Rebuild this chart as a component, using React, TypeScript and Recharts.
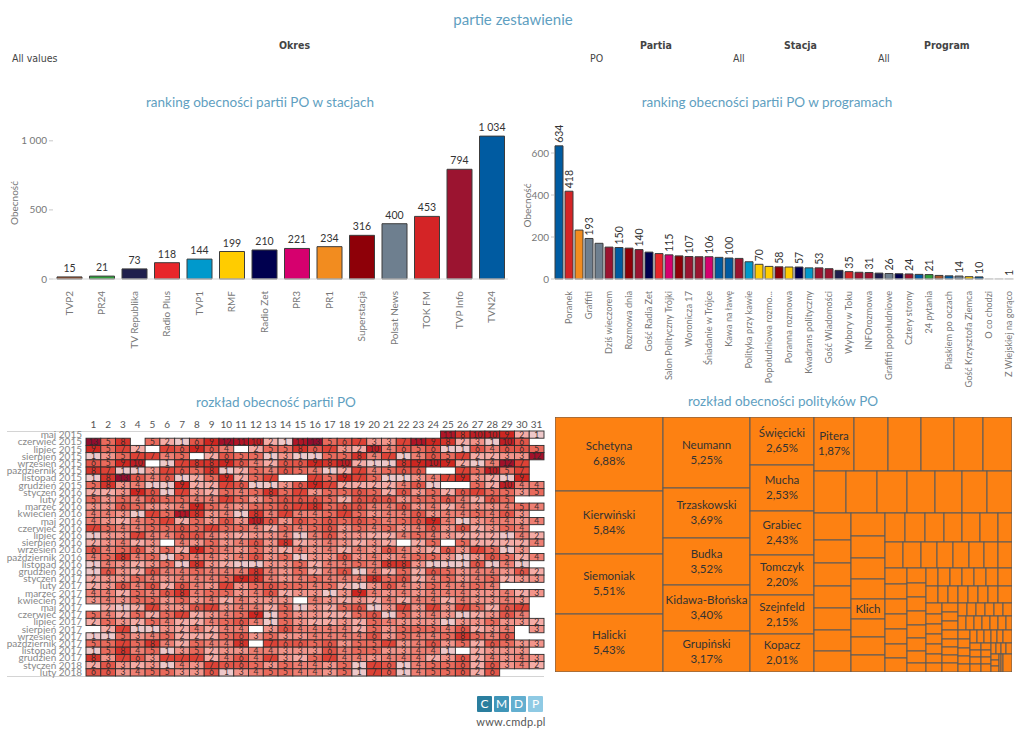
import React from "react";
import {
  BarChart,
  Bar,
  XAxis,
  YAxis,
  LabelList,
  Cell,
  ScatterChart,
  Scatter,
  Treemap,
} from "recharts";

const UI_FONT = "'Segoe UI', Lato, 'Open Sans', sans-serif";
const NARROW_FONT = "'Liberation Sans Narrow', 'DejaVu Sans Condensed', sans-serif";
const TITLE_COLOR = "#5f9fc1";
const TICK_COLOR = "#777";

const stationColors: Record<string, string> = {
  TVP2: "#a0522d",
  PR24: "#2e9e3a",
  "TV Republika": "#1f1f4d",
  "Radio Plus": "#e8262a",
  TVP1: "#0099cc",
  RMF: "#ffcc00",
  "Radio Zet": "#00004f",
  PR3: "#d6006e",
  PR1: "#f28c1f",
  Superstacja: "#8e0008",
  "Polsat News": "#6e7f8f",
  "TOK FM": "#d42426",
  "TVP Info": "#9b1430",
  TVN24: "#005ba1",
  inne: "#d0d0d0",
};

// --- ranking w stacjach ---
const stations = [
  "TVP2", "PR24", "TV Republika", "Radio Plus", "TVP1", "RMF", "Radio Zet",
  "PR3", "PR1", "Superstacja", "Polsat News", "TOK FM", "TVP Info", "TVN24",
];
const stationCounts = [15, 21, 73, 118, 144, 199, 210, 221, 234, 316, 400, 453, 794, 1034];

// --- ranking w programach ---
const programs = [
  "Jeden na jeden", "Poranek", "Sygnały dnia", "Graffiti", "Gość Wydarzeń", "Dziś wieczorem",
  "Kropka nad i", "Rozmowa dnia", "Minęła 20", "Gość Radia Zet", "Gość Radia Plus",
  "Salon Polityczny Trójki", "Tak czy nie", "Woronicza 17", "Gość poranka", "Śniadanie w Trójce",
  "Fakty po Faktach", "Kawa na ławę", "Studio Polska", "Polityka przy kawie", "Gość RMF FM",
  "Popołudniowa rozmo...", "Wydarzenia dnia", "Poranna rozmowa", "Wstajesz i wiesz",
  "Kwadrans polityczny", "Forum", "Gość Wiadomości", "Polityczna kawa", "Wybory w Toku",
  "Bez retuszu", "INFOrozmowa", "Wywiad Republiki", "Graffiti popołudniowe", "Rozmowa Radia Zet",
  "Cztery strony", "Tak jest", "24 pytania", "Pytanie dnia", "Piaskiem po oczach", "Skandaliści",
  "Gość Krzysztofa Ziemca", "Babilon", "O co chodzi", "Rozmowa Jedynki", "Z Wiejskiej na gorąco",
];
const programCounts = [
  634, 418, 233, 193, 170, 152, 150, 147, 140, 128, 121, 115, 110, 107, 106, 106, 103, 100,
  98, 82, 70, 60, 58, 57, 57, 53, 53, 49, 41, 35, 32, 31, 28, 26, 25, 24, 22, 21, 17, 15,
  14, 11, 10, 1, 1, 1,
];
const programStations = [
  "TVN24", "TOK FM", "PR1", "Polsat News", "Polsat News", "TVP Info", "TVN24", "Superstacja",
  "TVP Info", "Radio Zet", "Radio Plus", "PR3", "Superstacja", "TVP Info", "TVP Info", "PR3",
  "TVN24", "TVN24", "TVP Info", "TVP1", "RMF", "RMF", "Superstacja", "RMF", "Radio Zet", "TVP1",
  "TVP Info", "TVP Info", "TV Republika", "TOK FM", "TVP Info", "TVP Info", "TV Republika",
  "Polsat News", "Radio Zet", "TVP Info", "TVN24", "PR24", "TVP2", "TVN24", "Polsat News", "RMF",
  "TVN24", "inne", "inne", "inne",
];
// programs whose value label is printed above the bar
const labelledPrograms = [
  "Jeden na jeden", "Poranek", "Graffiti", "Kropka nad i", "Minęła 20", "Salon Polityczny Trójki",
  "Woronicza 17", "Śniadanie w Trójce", "Kawa na ławę", "Gość RMF FM", "Wydarzenia dnia",
  "Wstajesz i wiesz", "Forum", "Wybory w Toku", "INFOrozmowa", "Graffiti popołudniowe",
  "Cztery strony", "24 pytania", "Skandaliści", "Babilon", "Z Wiejskiej na gorąco",
];

// --- rozkład obecności (miesiąc x dzień) ---
const N = null;
const months = [
  "maj 2015", "czerwiec 2015", "lipiec 2015", "sierpień 2015", "wrzesień 2015", "październik 2015",
  "listopad 2015", "grudzień 2015", "styczeń 2016", "luty 2016", "marzec 2016", "kwiecień 2016",
  "maj 2016", "czerwiec 2016", "lipiec 2016", "sierpień 2016", "wrzesień 2016", "październik 2016",
  "listopad 2016", "grudzień 2016", "styczeń 2017", "luty 2017", "marzec 2017", "kwiecień 2017",
  "maj 2017", "czerwiec 2017", "lipiec 2017", "sierpień 2017", "wrzesień 2017", "październik 2017",
  "listopad 2017", "grudzień 2017", "styczeń 2018", "luty 2018",
];
const days = Array.from({ length: 31 }, (_, i) => i + 1);
const dailyCounts: (number | null)[][] = [
  [N, N, N, N, N, N, N, N, N, N, N, N, N, N, N, N, N, N, N, N, N, N, N, N, 11, 8, 10, 10, 9, 2, 1],
  [13, 5, 8, N, 5, 2, 1, 6, 9, 12, 11, 10, 2, 1, 11, 13, 5, 6, 7, 3, 3, 7, 11, 9, 8, 2, 3, 1, 10, 6, N],
  [9, 5, 7, 2, N, 7, 6, 9, 6, 4, N, 2, 5, 5, 8, 6, 7, 3, 2, 10, 4, 6, 5, 6, 1, 1, 6, 4, 6, 6, 5],
  [1, 3, 5, 7, 7, 4, 5, N, 2, 6, 5, 5, 1, 3, 1, 1, 5, 5, 8, 4, 7, 1, 4, 6, 5, 7, 2, 2, 3, 3, 12],
  [6, 5, 9, 10, N, 1, 7, 8, 8, 9, 6, 4, 2, 6, 6, 9, 8, 10, 2, 1, 1, 8, 9, 10, 9, 2, 1, 4, 12, 7, N],
  [8, 7, 1, 1, 3, 7, 6, 5, 8, 1, 2, 5, 4, 6, 5, 4, 1, 2, 7, 4, 5, 6, 6, N, N, 7, 5, 10, 5, 7, N],
  [1, 8, 13, 6, 4, 6, 1, 2, 5, 9, 2, 5, 7, N, N, 7, 5, 9, 7, 5, 1, 1, 3, 4, 7, 9, 3, 2, 1, 9, N],
  [5, 8, 3, 4, 1, 1, 9, 2, 2, 7, 6, 1, 1, 3, 6, 9, 7, 2, 2, 2, 2, 4, 6, 1, N, N, 5, 2, 10, 4, 4],
  [2, 2, 3, 9, 6, 1, 7, 3, 2, 5, 4, 5, 8, 5, 7, 3, 5, 5, 6, 5, 2, 6, 3, 5, 2, 6, 7, 5, 5, 3, 5],
  [5, 3, 5, 4, 6, 5, 5, 4, 4, 7, 5, 3, 5, 6, 6, 6, 5, 2, 6, 6, 6, 3, 5, 5, 6, 4, 2, 6, 5, N, N],
  [3, 3, 6, 5, 3, 3, 4, 9, 5, 4, 3, 5, 5, 6, 7, 8, 5, 6, 6, 4, 4, 6, 3, 4, 2, 4, 3, 3, 4, 5, 4],
  [4, 4, 3, 1, 7, 5, 11, 8, 3, 4, 1, 8, 4, 7, 4, 4, 5, 7, 5, 3, 4, 4, 6, 3, 4, 4, 5, 4, 6, 3, N],
  [4, 3, 2, 4, 5, 7, 2, 5, 3, 6, 3, 10, 6, 3, 6, 5, 6, 5, 6, 5, 4, 5, 6, 9, 4, 1, 3, 4, 4, 3, 4],
  [7, 5, 4, 4, 5, 5, 6, 5, 7, 5, 5, 4, 2, 5, 4, 5, 6, 3, 5, 4, 5, 3, 4, 6, 3, 6, 2, 3, 5, 4, N],
  [1, 3, 3, 7, 4, 4, 6, 6, 4, 3, 2, 3, 3, 4, 1, 4, 6, 3, 3, 2, 2, 4, 5, 4, 3, 2, 2, 2, 1, 4, 2],
  [2, 3, 4, 2, 3, N, 4, 3, 5, 3, 4, 6, 3, 8, 2, 3, 4, 3, 2, 3, 2, N, 2, 5, N, 5, 2, 2, 2, 2, 4],
  [6, 4, 5, 6, 3, 5, 2, 9, 5, 4, 3, 5, 3, 2, 4, 3, 4, 2, 4, 3, 6, 4, 3, 2, 6, 3, 7, 5, 1, 3, N],
  [4, 5, 8, 4, 5, 1, 5, 4, 4, 3, 4, 6, 3, 5, 1, 3, 3, 6, 3, 4, 3, 4, 5, 5, 3, 1, 3, 6, 5, 2, 4],
  [1, 4, 3, 2, 3, 5, 1, 8, 3, 2, 1, 1, 3, 3, 5, 2, 4, 4, 5, 4, 8, 8, 3, 1, 1, 1, 6, 1, 4, 1, N],
  [1, 6, 3, 2, 6, 4, 4, 5, 4, 4, 4, 8, 4, 3, 5, 2, 4, 6, 1, 4, 2, 5, 2, 6, 5, 3, 4, 4, 3, 6, 2],
  [2, 3, 3, 5, 4, 3, 4, 4, 4, 5, 9, 8, 4, 3, 4, 5, 4, 4, 4, 8, 5, 6, 2, 4, 5, 3, 4, 5, 2, 3, 3],
  [2, 3, 6, 4, 6, 2, 6, 4, 3, 7, 3, 5, 6, 5, 5, 4, 5, 2, 1, 3, 6, 4, 3, 5, 4, 4, 5, 4, N, N, N],
  [4, 4, 2, 5, 4, 6, 8, 4, 5, 5, 3, 4, 6, 2, 3, 3, 1, 3, 9, 4, 3, 4, 3, 4, 4, 4, 3, 3, 4, 2, 3],
  [3, 4, 3, 5, 5, 3, 5, 3, 4, 2, 4, 3, 3, 3, N, 4, 3, 2, 3, 2, 4, 2, 4, 4, 2, 4, 3, 3, 4, 3, N],
  [N, 2, 1, 2, 7, 3, 3, 6, 7, 3, 4, 4, 2, 5, 1, 3, 2, 5, 6, 1, 3, 7, 3, 7, 3, 7, 5, 2, 6, 7, N],
  [5, 4, 2, 5, 2, 5, 7, 2, 3, 4, 5, 9, 1, 5, 3, 3, 2, 2, 5, 6, 1, 5, 3, 4, 3, 1, 2, 3, 6, 4, N],
  [2, 5, 3, 2, 5, 4, 2, 2, 4, 5, 6, 4, 1, 5, 3, 2, 2, 3, 2, 5, 4, 3, 3, 3, 1, 3, 3, 5, 3, 3, 2],
  [N, 2, 7, 1, 1, 3, 2, 4, 2, 4, 4, N, 3, 6, 4, 4, 4, 4, 2, 5, 3, 5, 5, 5, 4, 6, 2, 3, 4, N, 3],
  [1, 1, 5, 3, 4, 5, 2, 2, 2, 5, 6, 3, 5, 3, 3, 4, 4, 4, 4, 6, 3, 5, 4, 4, 5, 8, 5, 4, 6, N, N],
  [5, 5, 7, 5, 8, 4, 2, 5, 4, 4, 8, N, 7, 6, 6, 5, 6, 3, 5, 5, 7, 3, 4, 6, 3, 5, 2, 6, 5, 3, 3],
  [1, 5, 8, 4, 5, 1, 3, 5, 2, 3, 3, 4, 4, 3, 3, 3, 6, 4, 5, 5, 3, 3, 4, 4, 1, N, 2, 3, 3, 3, N],
  [8, 3, 7, 6, 3, 7, 7, 7, 2, 4, 6, 4, 7, 3, 2, 5, 7, 4, 4, 3, 4, 4, 4, 2, 3, 6, 2, 4, 3, 4, 3],
  [2, 6, 3, 2, 3, 1, 4, 3, 7, 6, 6, 5, 3, 5, 4, 4, 3, 5, 1, 7, 6, 1, 4, 5, 5, 6, 2, 6, 3, 4, 2],
  [6, 6, 3, 4, 5, 5, 3, 3, 6, 1, 3, 4, 5, 5, 4, 4, 3, 5, 1, 7, 6, 1, 4, 5, 5, 6, 2, 6, N, N, N],
];

// --- rozkład obecności polityków (udział w %) ---
const politicianNames = [
  "Schetyna", "Kierwiński", "Siemoniak", "Halicki", "Neumann", "Trzaskowski", "Budka",
  "Kidawa-Błońska", "Grupiński", "Święcicki", "Mucha", "Grabiec", "Tomczyk", "Szejnfeld",
  "Kopacz", "Pitera",
];
const politicianShares = [
  6.88, 5.84, 5.51, 5.43, 5.25, 3.69, 3.52, 3.4, 3.17, 2.65, 2.53, 2.43, 2.2, 2.15, 2.01, 1.87,
];
// the remaining politicians, largest first; only Klich gets a name in the picture
const otherShares = [
  1.55, 1.53, 1.52, 1.36, 1.24,
  1.16, 1.1, 1.09, 0.99, 0.98, 0.91, 0.9,
  0.84, 0.74, 0.72, 0.7, 0.69, 0.68, 0.67,
  0.66, 0.64, 0.61, 0.59, 0.57, 0.53, 0.52, 0.51,
  0.5, 0.49, 0.46, 0.45, 0.45, 0.44, 0.41,
  0.41, 0.4, 0.36, 0.36, 0.35, 0.34, 0.32, 0.31,
  0.3, 0.29, 0.29, 0.28, 0.28, 0.27, 0.27,
  0.24, 0.23, 0.22, 0.22, 0.21, 0.21, 0.2, 0.2, 0.19,
  0.19, 0.19, 0.19, 0.18, 0.18, 0.18, 0.18,
  0.15, 0.15, 0.15, 0.15, 0.15, 0.15, 0.15,
  0.15, 0.14, 0.14, 0.14, 0.14, 0.13, 0.12,
  0.12, 0.12, 0.12, 0.12, 0.11, 0.11, 0.11, 0.11,
  0.1, 0.1, 0.1, 0.1, 0.1, 0.1, 0.1, 0.09, 0.09, 0.09, 0.09, 0.09, 0.09, 0.09, 0.09,
  0.08, 0.08, 0.08, 0.08, 0.08, 0.08, 0.07, 0.07, 0.07, 0.07, 0.07, 0.07,
  0.06, 0.06, 0.06, 0.06, 0.06, 0.05, 0.05, 0.05, 0.05, 0.04, 0.04, 0.04, 0.03, 0.03, 0.03,
];
const klichPosition = 23;

const stationData = stations.map((name, i) => ({ name, value: stationCounts[i] }));
const programData = programs.map((name, i) => ({
  name,
  value: programCounts[i],
  station: programStations[i],
}));
const heatCells = dailyCounts.flatMap((row, r) =>
  row.map((v, d) => ({ day: d + 1, row: r, value: v })).filter((c) => c.value !== null)
);
const treemapData = [
  ...politicianNames.map((name, i) => ({ name, share: politicianShares[i] })),
  ...otherShares.map((share, i) => ({ name: i === klichPosition ? "Klich" : "", key: `p${i}`, share })),
];

const fmtNum = (v: number) => String(v).replace(/\B(?=(\d{3})+(?!\d))/g, " ");
const fmtPct = (v: number) => v.toFixed(2).replace(".", ",") + "%";

// heat colour scale (light pink -> crimson)
const heatStops: [number, number[]][] = [
  [1, [238, 200, 202]],
  [2, [245, 172, 166]],
  [3, [242, 148, 138]],
  [5, [233, 106, 92]],
  [7, [221, 66, 54]],
  [9, [207, 38, 32]],
  [11, [178, 20, 38]],
  [13, [146, 12, 46]],
];
function heatColor(v: number) {
  for (let i = 0; i < heatStops.length - 1; i++) {
    const [a, ca] = heatStops[i];
    const [b, cb] = heatStops[i + 1];
    if (v <= b) {
      const t = Math.max(0, (v - a) / (b - a));
      const c = ca.map((x, k) => Math.round(x + (cb[k] - x) * t));
      return `rgb(${c.join(",")})`;
    }
  }
  return "rgb(146,12,46)";
}

function RotTick(props: any) {
  const { x, y, payload, hide, size = 10 } = props;
  if (hide) return null;
  return (
    <text
      x={x}
      y={y + 4}
      transform={`rotate(-90 ${x} ${y + 4})`}
      textAnchor="end"
      dy="0.35em"
      fontSize={size}
      fill={TICK_COLOR}
      fontFamily={UI_FONT}
    >
      {payload.value}
    </text>
  );
}

function MonthTick(props: any) {
  const { x, y, payload } = props;
  return (
    <text x={x} y={y} dy="0.35em" textAnchor="end" fontSize={10} fill="#888" fontFamily={UI_FONT}>
      {months[payload.value]}
    </text>
  );
}

function TopValueLabel(props: any) {
  const vb = props.viewBox || props;
  const cx = vb.x + vb.width / 2;
  return (
    <text x={cx} y={vb.y - 5} textAnchor="middle" fontSize={10.5} fill="#333" fontFamily={UI_FONT}>
      {fmtNum(Number(props.value))}
    </text>
  );
}

function RotValueLabel(props: any) {
  const vb = props.viewBox || props;
  const { index, value } = props;
  if (!labelledPrograms.includes(programs[index])) return null;
  const cx = vb.x + vb.width / 2;
  const ty = vb.y - 3;
  return (
    <text x={cx} y={ty} transform={`rotate(-90 ${cx} ${ty})`} dy="0.35em" fontSize={10.5} fill="#333" fontFamily={UI_FONT}>
      {value}
    </text>
  );
}

const HEAT_W = 550;
const HEAT_H = 290;
const HEAT_M = { top: 16, right: 6, bottom: 9, left: 0 };
const HEAT_YAXIS = 86;
const HEAT_XAXIS = 20;
const CELL_W = (HEAT_W - HEAT_M.left - HEAT_M.right - HEAT_YAXIS) / 31;
const CELL_H = (HEAT_H - HEAT_M.top - HEAT_M.bottom - HEAT_XAXIS) / months.length;

function HeatCell(props: any) {
  const { cx, cy, payload } = props;
  if (cx == null || cy == null) return null;
  return (
    <g>
      <rect
        x={cx - CELL_W / 2}
        y={cy - CELL_H / 2}
        width={CELL_W}
        height={CELL_H}
        fill={heatColor(payload.value)}
        stroke="#2a2a2a"
        strokeWidth={0.9}
      />
      <text x={cx} y={cy} dy="0.36em" textAnchor="middle" fontSize={8.5} fill="#3a2a2a" fontFamily={UI_FONT}>
        {payload.value}
      </text>
    </g>
  );
}

function TreeCell(props: any) {
  const { x, y, width, height, name, depth, value } = props;
  if (depth !== 1) return null;
  const cx = x + width / 2;
  const cy = y + height / 2;
  const showPct = name && width > 35 && height > 30;
  const showName = name && width > 25 && height > 14;
  return (
    <g>
      <rect x={x} y={y} width={width} height={height} fill="#fd8112" stroke="#5a5a5a" strokeWidth={1} />
      {showName && (
        <text x={cx} y={showPct ? cy - 8 : cy} dy="0.35em" textAnchor="middle" fontSize={11.5} fill="#333" fontFamily={UI_FONT}>
          {name}
        </text>
      )}
      {showPct && (
        <text x={cx} y={cy + 7} dy="0.35em" textAnchor="middle" fontSize={11.5} fill="#333" fontFamily={UI_FONT}>
          {fmtPct(value)}
        </text>
      )}
    </g>
  );
}

const abs = (left: number, top: number, extra: React.CSSProperties = {}): React.CSSProperties => ({
  position: "absolute",
  left,
  top,
  ...extra,
});

function Title({ x, y, text, size = 13.5 }: { x: number; y: number; text: string; size?: number }) {
  return (
    <div
      style={abs(x - 250, y - size * 0.7, {
        width: 500,
        textAlign: "center",
        fontSize: size,
        color: TITLE_COLOR,
        whiteSpace: "nowrap",
        lineHeight: 1.2,
      })}
    >
      {text}
    </div>
  );
}

function FilterText({ x, y, text, bold }: { x: number; y: number; text: string; bold?: boolean }) {
  return (
    <div
      style={abs(x, y - 7, {
        fontFamily: NARROW_FONT,
        fontSize: 10.5,
        fontWeight: bold ? 700 : 400,
        color: "#444",
        lineHeight: "14px",
        whiteSpace: "nowrap",
      })}
    >
      {text}
    </div>
  );
}

const logoLetters = ["C", "M", "D", "P"];
const logoColors = ["#2a7e9e", "#3f95b8", "#63afd0", "#8fcae4"];

export default function App() {
  return (
    <div
      style={{
        position: "absolute",
        left: 0,
        top: 0,
        width: 1024,
        height: 745,
        background: "#fff",
        overflow: "hidden",
        fontFamily: UI_FONT,
      }}
    >
      <Title x={513} y={20} text="partie zestawienie" size={15} />
      <FilterText x={279} y={45} text="Okres" bold />
      <FilterText x={12} y={58} text="All values" />
      <FilterText x={640} y={45} text="Partia" bold />
      <FilterText x={590} y={58} text="PO" />
      <FilterText x={784} y={45} text="Stacja" bold />
      <FilterText x={733} y={58} text="All" />
      <FilterText x={924} y={45} text="Program" bold />
      <FilterText x={878} y={58} text="All" />

      <Title x={260} y={103} text="ranking obecności partii PO w stacjach" />
      <div style={abs(0, 100)}>
        <BarChart width={520} height={280} data={stationData} margin={{ top: 27, right: 12, bottom: 0, left: 0 }}>
          <XAxis
            dataKey="name"
            interval={0}
            height={101}
            tickLine={false}
            axisLine={{ stroke: "#d8d8d8" }}
            tick={(p: any) => <RotTick {...p} />}
          />
          <YAxis
            domain={[0, 1100]}
            ticks={[0, 500, 1000]}
            width={53}
            axisLine={false}
            tickLine={{ stroke: "#c8c8c8" }}
            tickSize={4}
            tickFormatter={fmtNum}
            tick={{ fontSize: 10, fill: TICK_COLOR, fontFamily: UI_FONT }}
            label={{
              value: "Obecność",
              angle: -90,
              position: "insideLeft",
              offset: 14,
              style: { textAnchor: "middle", fontSize: 10, fill: TICK_COLOR, fontFamily: UI_FONT },
            }}
          />
          <Bar dataKey="value" barSize={25} stroke="#3c3c3c" strokeWidth={1} isAnimationActive={false}>
            {stationData.map((d) => (
              <Cell key={d.name} fill={stationColors[d.name]} />
            ))}
            <LabelList dataKey="value" content={(p: any) => <TopValueLabel {...p} />} />
          </Bar>
        </BarChart>
      </div>

      <Title x={767} y={103} text="ranking obecności partii PO w programach" />
      <div style={abs(520, 100)}>
        <BarChart width={504} height={290} data={programData} margin={{ top: 32, right: 10, bottom: 0, left: 0 }}>
          <XAxis
            dataKey="name"
            interval={0}
            height={111}
            tickLine={false}
            axisLine={{ stroke: "#d8d8d8" }}
            tick={(p: any) => <RotTick {...p} size={9.2} hide={p.index % 2 === 0} />}
          />
          <YAxis
            domain={[0, 700]}
            ticks={[0, 200, 400, 600]}
            width={34}
            axisLine={false}
            tickLine={{ stroke: "#c8c8c8" }}
            tickSize={3}
            tick={{ fontSize: 10, fill: TICK_COLOR, fontFamily: UI_FONT }}
            label={{
              value: "Obecność",
              angle: -90,
              position: "insideLeft",
              offset: 7,
              style: { textAnchor: "middle", fontSize: 10, fill: TICK_COLOR, fontFamily: UI_FONT },
            }}
          />
          <Bar dataKey="value" barSize={8} stroke="#3c3c3c" strokeWidth={1} isAnimationActive={false}>
            {programData.map((d) => (
              <Cell
                key={d.name}
                fill={stationColors[d.station]}
                stroke={d.station === "inne" ? "#c8c8c8" : "#3c3c3c"}
              />
            ))}
            <LabelList dataKey="value" content={(p: any) => <RotValueLabel {...p} />} />
          </Bar>
        </BarChart>
      </div>

      <Title x={276} y={403} text="rozkład obecność partii PO" />
      <div style={abs(7, 431, { width: 537, height: 0, borderTop: "1px solid #d4d4d4" })} />
      <div style={abs(7, 676, { width: 537, height: 0, borderTop: "1px solid #d4d4d4" })} />
      <div style={abs(0, 395)}>
        <ScatterChart width={HEAT_W} height={HEAT_H} margin={HEAT_M}>
          <XAxis
            type="number"
            dataKey="day"
            orientation="top"
            domain={[0.5, 31.5]}
            ticks={days}
            interval={0}
            height={HEAT_XAXIS}
            axisLine={false}
            tickLine={false}
            tickSize={0}
            tickMargin={3}
            tick={{ fontSize: 10, fill: "#555", fontFamily: UI_FONT }}
          />
          <YAxis
            type="number"
            dataKey="row"
            reversed
            domain={[-0.5, months.length - 0.5]}
            ticks={months.map((_, i) => i)}
            interval={0}
            width={HEAT_YAXIS}
            axisLine={false}
            tickLine={false}
            tickSize={0}
            tickMargin={4}
            tick={(p: any) => <MonthTick {...p} />}
          />
          <Scatter data={heatCells} shape={(p: any) => <HeatCell {...p} />} isAnimationActive={false} />
        </ScatterChart>
      </div>

      <Title x={783} y={402} text="rozkład obecności polityków PO" />
      <div style={abs(555, 417)}>
        <Treemap
          width={457}
          height={255}
          data={treemapData}
          dataKey="share"
          nameKey="name"
          isAnimationActive={false}
          content={(p: any) => <TreeCell {...p} />}
        />
      </div>

      <div style={abs(477, 696, { display: "flex", gap: 2 })}>
        {logoLetters.map((l, i) => (
          <div
            key={l}
            style={{
              width: 15,
              height: 16,
              background: logoColors[i],
              color: "#fff",
              fontSize: 12,
              lineHeight: "16px",
              textAlign: "center",
              borderRadius: 1,
            }}
          >
            {l}
          </div>
        ))}
      </div>
      <div style={abs(461, 715, { width: 100, textAlign: "center", fontSize: 11, color: "#555", letterSpacing: 0.3 })}>
        www.cmdp.pl
      </div>
    </div>
  );
}
